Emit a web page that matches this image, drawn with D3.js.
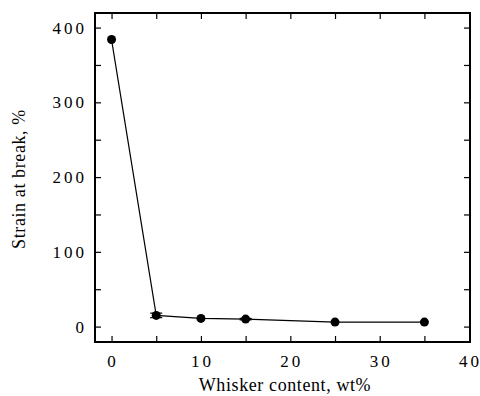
<!DOCTYPE html>
<html><head><meta charset="utf-8">
<script src="https://cdn.jsdelivr.net/npm/d3@7"></script>
<style>body{margin:0;background:#fff}svg{display:block}</style>
</head><body><svg id="c" width="480" height="396" font-family="Liberation Serif"></svg>
<script>
const content = [0, 5, 10, 15, 25, 35];
const strain = [384, 15, 11, 10, 6, 6];
const errLo = [0, 3, 0, 1, 0, 0];
const errHi = [0, 3, 0, 1, 0, 0];
const xTicks = [0, 10, 20, 30, 40];
const yTicks = [0, 100, 200, 300, 400];
const xMinor = [0, 5, 10, 15, 20, 25, 30, 35, 40];
const yMinor = [0, 50, 100, 150, 200, 250, 300, 350, 400];

const svg = d3.select("#c");
const L = 95, R = 470, T = 13, B = 342;
const x = d3.scaleLinear().domain([-1.85, 40.1]).range([L, R]);
const y = d3.scaleLinear().domain([-20.6, 419.5]).range([B, T]);

const tl = 6;
svg.append("g").attr("transform", `translate(0,${B})`)
  .call(d3.axisBottom(x).tickValues(xMinor).tickSize(-tl).tickFormat(""))
  .call(g => g.select(".domain").remove());
svg.append("g").attr("transform", `translate(0,${T})`)
  .call(d3.axisTop(x).tickValues(xMinor).tickSize(-tl).tickFormat(""))
  .call(g => g.select(".domain").remove());
svg.append("g").attr("transform", `translate(${L},0)`)
  .call(d3.axisLeft(y).tickValues(yMinor).tickSize(-tl).tickFormat(""))
  .call(g => g.select(".domain").remove());
svg.append("g").attr("transform", `translate(${R},0)`)
  .call(d3.axisRight(y).tickValues(yMinor).tickSize(-tl).tickFormat(""))
  .call(g => g.select(".domain").remove());
svg.selectAll(".tick line").attr("stroke", "#000").attr("stroke-width", 1.2);

const gap = s => String(s).split("").map((c, i) => i === 0 ? 0 : 3).join(" ");
svg.append("g").selectAll("text").data(xTicks).join("text")
  .attr("x", d => x(d)).attr("y", 367).attr("text-anchor", "middle")
  .attr("font-size", 17).attr("dx", d => gap(d)).text(d => d);
svg.append("g").selectAll("text").data(yTicks).join("text")
  .attr("x", 84).attr("y", d => y(d)).attr("dy", "0.35em").attr("text-anchor", "end")
  .attr("font-size", 17).attr("dx", d => gap(d)).text(d => d);

svg.append("rect").attr("x", L).attr("y", T).attr("width", R - L).attr("height", B - T)
  .attr("fill", "none").attr("stroke", "#000").attr("stroke-width", 2);

svg.append("text").attr("x", 285).attr("y", 391).attr("text-anchor", "middle")
  .attr("font-size", 18).attr("letter-spacing", 0.6).text("Whisker content, wt%");
svg.append("text").attr("transform", "translate(25,179) rotate(-90)").attr("text-anchor", "middle")
  .attr("font-size", 18).attr("letter-spacing", 0.6).text("Strain at break, %");

const pts = content.map((c, i) => ({c, v: strain[i], lo: errLo[i], hi: errHi[i]}));
svg.append("path").datum(pts).attr("fill", "none").attr("stroke", "#000").attr("stroke-width", 1.2)
  .attr("d", d3.line().x(d => x(d.c)).y(d => y(d.v)));
const eb = svg.append("g").attr("stroke", "#000").attr("stroke-width", 1.2);
pts.filter(d => d.lo > 0 || d.hi > 0).forEach(d => {
  eb.append("line").attr("x1", x(d.c)).attr("x2", x(d.c)).attr("y1", y(d.v - d.lo)).attr("y2", y(d.v + d.hi));
  [d.v - d.lo, d.v + d.hi].forEach(v => eb.append("line").attr("x1", x(d.c) - 6).attr("x2", x(d.c) + 6).attr("y1", y(v)).attr("y2", y(v)));
});
svg.append("g").selectAll("circle").data(pts).join("circle")
  .attr("cx", d => x(d.c)).attr("cy", d => y(d.v)).attr("r", 4.5).attr("fill", "#000");
</script></body></html>
